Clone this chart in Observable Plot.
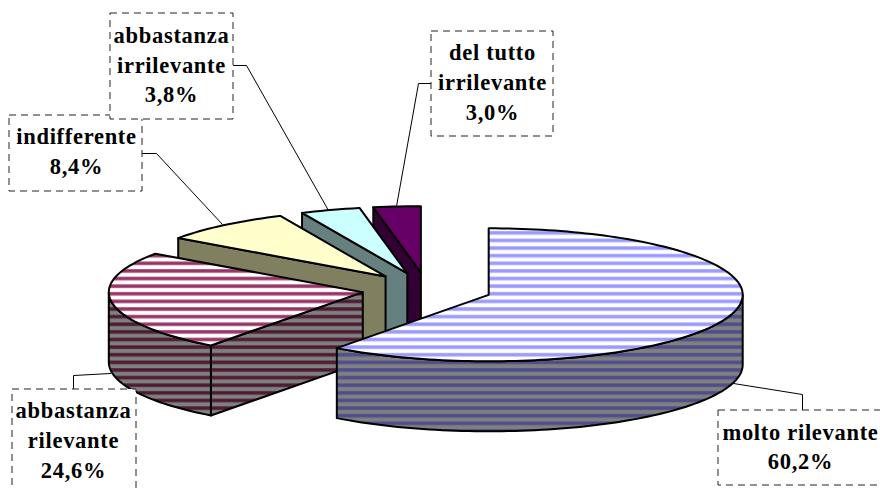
<!DOCTYPE html>
<html>
<head>
<meta charset="utf-8">
<style>html,body{margin:0;padding:0;background:#fff}svg{display:block}</style>
<script src="https://cdn.jsdelivr.net/npm/d3@7"></script>
<script src="https://cdn.jsdelivr.net/npm/@observablehq/plot@0.6"></script>
</head>
<body>
<div id="chart"></div>
<script>
// Data, clockwise from 12 o'clock
const categories = ["molto rilevante","abbastanza rilevante","indifferente","abbastanza irrilevante","del tutto irrilevante"];
const values = [60.2,24.6,8.4,3.8,3.0];
const labelLines = ["molto rilevante","abbastanza\nrilevante","indifferente","abbastanza\nirrilevante","del tutto\nirrilevante"];
const topFills = ["url(#topBlue)","url(#topMagenta)","#ffffcc","#ccffff","#660066"];
const wallFills = ["url(#wallBlue)","url(#wallMagenta)","#808060","#668080","#330033"];

// Pie layout
const cx = 426.5, cy = 289, rx = 254, ry = 66.5, depth = 70, explode = 65, tilt = 0.26;
// Label layout: box [x1,y1,x2,y2], leader polyline and text centre
const boxes = [[718,410,892,485],[12,389,136,505],[9,115,142,191],[110,13,233,119],[431,31,553,136]];
const leaders = [
  [[733,383],[802,394],[802,410]],
  [[110,373],[73,375],[73,389]],
  [[142,153],[156,153],[222,224]],
  [[233,65],[246,65],[328,210]],
  [[431,83],[418,83],[396,206]]
];
const textCentres = [[800,444.5],[73,438],[76,149],[171,62.5],[492,80]];

const rad = d => d * Math.PI / 180;
const total = d3.sum(values);
let acc = 0;
const slices = values.map((v, i) => {
  const t0 = acc * 360 / total; acc += v;
  const t1 = acc * 360 / total, mid = (t0 + t1) / 2;
  return {i, v, t0, t1,
    tipX: cx + explode * Math.sin(rad(mid)),
    tipY: cy - explode * tilt * Math.cos(rad(mid))};
});
const rim = (s, t, dz = 0) => ({x: s.tipX + rx * Math.sin(rad(t)), y: s.tipY - ry * Math.cos(rad(t)) + dz});
const tip = (s, dz = 0) => ({x: s.tipX, y: s.tipY + dz});
const arc = (s, a, b, dz = 0) => d3.range(a, b, 1.5).concat(b).map(t => rim(s, t, dz));

const face = (points, fill) => Plot.line(points, {
  x: "x", y: "y", fill, stroke: "#000", strokeWidth: 2, curve: "linear-closed", strokeLinejoin: "round"
});

const stripe = (id, base, blend, color) =>
  `<pattern id="${id}" patternUnits="userSpaceOnUse" x="0" y="238" width="8" height="7.62">
     <rect width="8" height="7.62" fill="${base}"/>
     <rect y="-0.2" width="8" height="4.2" fill="${blend}"/>
     <rect y="0.4" width="8" height="3" fill="${color}"/>
   </pattern>`;
const defs = () => {
  const g = document.createElementNS("http://www.w3.org/2000/svg", "defs");
  g.innerHTML = stripe("topBlue", "#ffffff", "#ccccff", "#9999ff")
    + stripe("wallBlue", "#808080", "#666686", "#4d4d8c")
    + stripe("topMagenta", "#ffffff", "#cc99b3", "#993366")
    + stripe("wallMagenta", "#808080", "#664d59", "#4d1a33");
  return g;
};

const pieMarks = [];
[...slices].reverse().forEach(s => {
  const wall = t => face([tip(s), rim(s, t), rim(s, t, depth), tip(s, depth)], wallFills[s.i]);
  if (s.t0 > 180) pieMarks.push(wall(s.t0));
  if (s.t1 < 180) pieMarks.push(wall(s.t1));
  const a = Math.max(s.t0, 90), b = Math.min(s.t1, 270);
  if (b > a) pieMarks.push(face([...arc(s, a, b), ...arc(s, a, b, depth).reverse()], wallFills[s.i]));
  pieMarks.push(face([tip(s), ...arc(s, s.t0, s.t1)], topFills[s.i]));
});

const boxData = boxes.map((b, i) => ({x1: b[0], y1: b[1], x2: b[2], y2: b[3], i}));
const textData = slices.map(s => ({
  text: labelLines[s.i] + "\n" + s.v.toFixed(1).replace(".", ",") + "%",
  x: textCentres[s.i][0],
  y: textCentres[s.i][1]
}));

const chart = Plot.plot({
  width: 880, height: 490, margin: 0,
  x: {domain: [0, 880], range: [0, 880], axis: null},
  y: {domain: [0, 490], range: [0, 490], axis: null},
  style: {background: "#fff", letterSpacing: "0.7px"},
  marks: [
    defs,
    ...pieMarks,
    ...leaders.map(l => Plot.line(l, {x: d => d[0], y: d => d[1], stroke: "#000", strokeWidth: 1})),
    Plot.rect(boxData, {x1: "x1", x2: "x2", y1: "y1", y2: "y2", fill: "#fff", stroke: "#222", strokeWidth: 1, strokeDasharray: "7,5"}),
    Plot.text(textData, {x: "x", y: "y", text: "text", fontFamily: "Liberation Serif", fontWeight: "bold", fontSize: 22.5, lineHeight: 1.32, fill: "#000", lineAnchor: "middle", textAnchor: "middle"})
  ]
});
document.getElementById("chart").appendChild(chart);
</script>
</body>
</html>
